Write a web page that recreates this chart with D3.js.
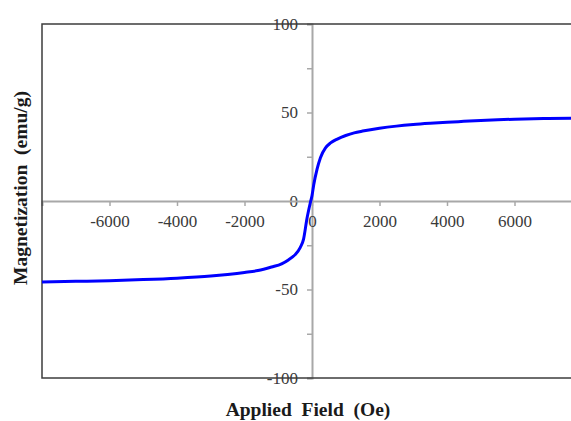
<!DOCTYPE html>
<html>
<head>
<meta charset="utf-8">
<script src="https://cdn.jsdelivr.net/npm/d3@7"></script>
<style>
  html, body { margin: 0; padding: 0; background: #fff; }
  svg { display: block; }
</style>
</head>
<body>
<div id="chart"></div>
<script>
// M-H loop: applied field (Oe) vs magnetization (emu/g)
const FIELD = [-8000, -7000, -6000, -5000, -4000, -3000, -2500, -2000, -1600, -1200,
  -900, -700, -500, -350, -250, -150, -50, 0, 50, 150, 250, 400, 550, 750, 1000,
  1250, 1500, 2000, 2500, 3000, 3500, 4000, 4500, 5000, 5500, 6000, 7000, 8000];
const MAG = [-45.8, -45.4, -45.0, -44.4, -43.6, -42.4, -41.5, -40.4, -39.3, -37.3,
  -35.5, -33.3, -30.3, -26.3, -21.5, -10, -1, 3, 9, 18, 24.5, 30, 32.8, 35, 37,
  38.5, 39.5, 41.1, 42.3, 43.2, 43.9, 44.5, 45.0, 45.5, 45.9, 46.2, 46.6, 46.9];

const X_TICKS = [-6000, -4000, -2000, 0, 2000, 4000, 6000];
const Y_TICKS = [-100, -50, 0, 50, 100];
const Y_MINOR = [-75, -25, 25, 75];

const X_TITLE = "Applied  Field  (Oe)";
const Y_TITLE = "Magnetization  (emu/g)";

const totalW = 571, totalH = 421;
const margin = { top: 24, left: 42, bottom: 43 };
// plot extends past the right edge of the picture (cropped frame)
const plotRight = 582;

const svg = d3.select("#chart").append("svg")
  .attr("width", totalW).attr("height", totalH);

const x = d3.scaleLinear().domain([-8000, 8000]).range([margin.left, plotRight]);
const y = d3.scaleLinear().domain([-100, 100]).range([totalH - margin.bottom, margin.top]);

const FONT = "'Liberation Serif', 'Times New Roman', serif";
const fmt = d => String(d); // plain hyphen minus, like the original

/* zero axes (grey) */
const yAxis = svg.append("g").attr("transform", `translate(${x(0)},0)`)
  .call(d3.axisLeft(y).tickValues(Y_TICKS).tickSize(5).tickPadding(9).tickFormat(fmt));
yAxis.select(".domain").attr("stroke", "#a8a8a8").attr("stroke-width", 2);
yAxis.selectAll("line").attr("stroke", "#a8a8a8").attr("stroke-width", 1.5);
yAxis.selectAll("text").attr("font-family", FONT).attr("font-size", 17).attr("fill", "#3a3a3a");

svg.append("g").attr("transform", `translate(${x(0)},0)`)
  .call(d3.axisLeft(y).tickValues(Y_MINOR).tickSize(5).tickFormat(""))
  .call(g => g.select(".domain").remove())
  .selectAll("line").attr("stroke", "#a8a8a8").attr("stroke-width", 1.5);

const xAxis = svg.append("g").attr("transform", `translate(0,${y(0)})`)
  .call(d3.axisBottom(x).tickValues(X_TICKS).tickSize(5).tickPadding(9).tickFormat(fmt));
xAxis.select(".domain").attr("stroke", "#a8a8a8").attr("stroke-width", 2);
xAxis.selectAll("line").attr("stroke", "#a8a8a8").attr("stroke-width", 1.5);
xAxis.selectAll("text").attr("font-family", FONT).attr("font-size", 17).attr("fill", "#3a3a3a");

/* frame */
svg.append("rect")
  .attr("x", x(-8000)).attr("y", y(100))
  .attr("width", x(8000) - x(-8000)).attr("height", y(-100) - y(100))
  .attr("fill", "none").attr("stroke", "#3c3c3c").attr("stroke-width", 1.5);

/* curve */
const pts = FIELD.map((f, i) => [f, MAG[i]]);
svg.append("path")
  .datum(pts)
  .attr("fill", "none")
  .attr("stroke", "#0000ff")
  .attr("stroke-width", 3)
  .attr("stroke-linejoin", "round")
  .attr("d", d3.line().x(d => x(d[0])).y(d => y(d[1])).curve(d3.curveMonotoneX));

/* axis titles */
svg.append("text")
  .attr("x", 308).attr("y", 416)
  .attr("text-anchor", "middle")
  .attr("font-family", FONT).attr("font-weight", "bold").attr("font-size", 19.5)
  .attr("fill", "#1a1a1a")
  .style("white-space", "pre")
  .text(X_TITLE);

svg.append("text")
  .attr("transform", "translate(27,188) rotate(-90)")
  .attr("text-anchor", "middle")
  .attr("font-family", FONT).attr("font-weight", "bold").attr("font-size", 19.5)
  .attr("fill", "#1a1a1a")
  .style("white-space", "pre")
  .text(Y_TITLE);
</script>
</body>
</html>
